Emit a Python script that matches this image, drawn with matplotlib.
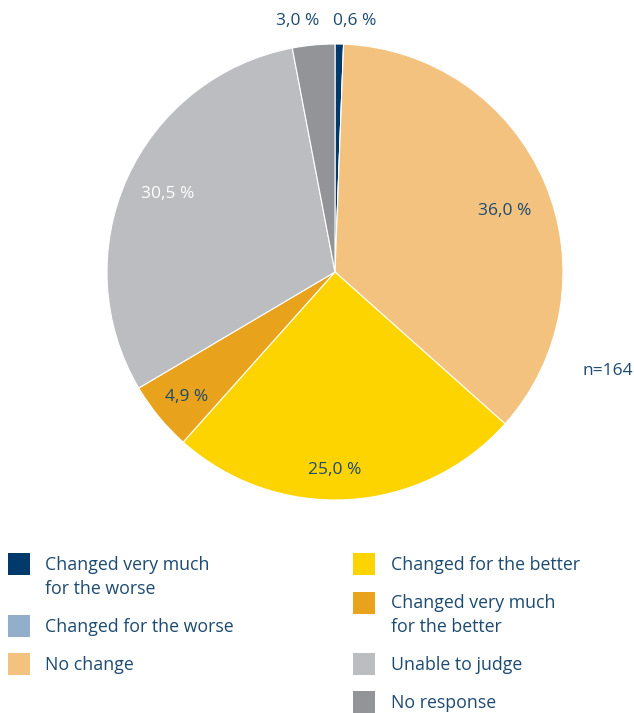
import matplotlib
matplotlib.use("Agg")
import matplotlib.pyplot as plt
from matplotlib.patches import Rectangle

categories = ["Changed very much\nfor the worse", "Changed for the worse", "No change",
              "Changed for the better", "Changed very much\nfor the better",
              "Unable to judge", "No response"]
values = [0.6, 0.0, 36.0, 25.0, 4.9, 30.5, 3.0]
labels = ["0,6 %", "", "36,0 %", "25,0 %", "4,9 %", "30,5 %", "3,0 %"]
colors = ["#003a6b", "#93aecb", "#f4c27f", "#fdd400", "#e8a21c", "#bcbdc1", "#939497"]
text_col = "#1d4a70"

plt.rcParams['font.family'] = ['Open Sans', 'DejaVu Sans']

W, H = 634, 713
fig = plt.figure(figsize=(W/100, H/100), dpi=100)
cx, cy, r = 335, 272, 228
ax = fig.add_axes([(cx-r)/W, (H-cy-r)/H, 2*r/W, 2*r/H])

wedges, _ = ax.pie(values, colors=colors, startangle=90, counterclock=False, radius=1,
                   wedgeprops=dict(edgecolor='white', linewidth=0.8))
ax.set_xlim(-1, 1); ax.set_ylim(-1, 1)
ax.set_aspect('equal')
ax.axis('off')

# label positions (in unit-radius coordinates)
label_pos = {0: (0.088, 1.101), 2: (0.746, 0.268), 3: (0.0, -0.868),
             4: (-0.649, -0.548), 5: (-0.732, 0.342), 6: (-0.162, 1.101)}
for i, (x, y) in label_pos.items():
    col = 'white' if i == 5 else text_col
    ax.text(x, y, labels[i], ha='center', va='center', fontsize=12.5, color=col, clip_on=False)
ax.text(1.197, -0.434, "n=164", ha='center', va='center', fontsize=12.5, color=text_col, clip_on=False)

# legend (manual)
left_items = [(0, 563, 2), (1, 625, 1), (2, 663, 1)]
right_items = [(3, 563, 1), (4, 602, 2), (5, 663, 1), (6, 701, 1)]
def add_item(idx, ytop_line, xsq, xtxt):
    fig.patches.append(Rectangle((xsq/W, (H - ytop_line - 11.5)/H), 22/W, 22/H,
                                 transform=fig.transFigure, facecolor=colors[idx], edgecolor='none'))
    lines = categories[idx].split("\n")
    for k, ln in enumerate(lines):
        fig.text(xtxt/W, (H - ytop_line - 1.5 - 24*k)/H, ln, ha='left', va='center',
                 fontsize=12.8, color=text_col)
for idx, y, n in left_items:
    add_item(idx, y, 8, 45)
for idx, y, n in right_items:
    add_item(idx, y, 353, 391)

fig.savefig("out.png", dpi=100)
